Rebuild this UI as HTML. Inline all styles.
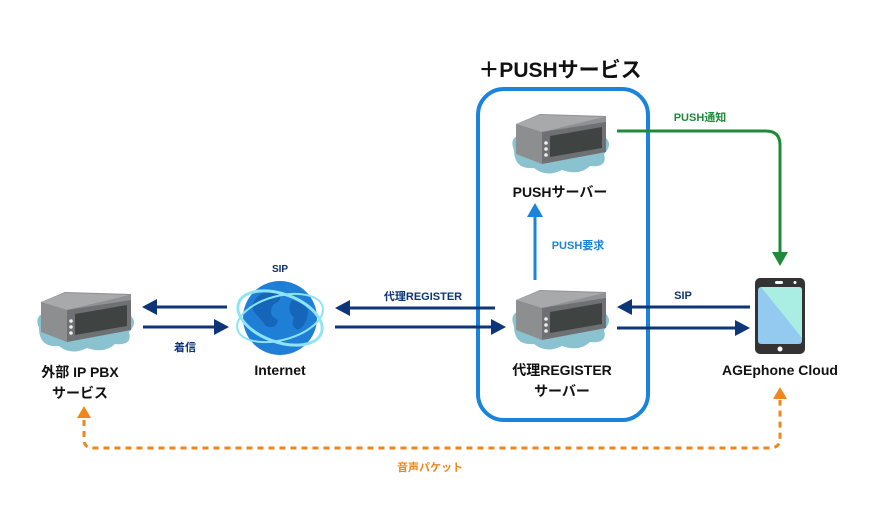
<!DOCTYPE html>
<html><head><meta charset="utf-8"><style>
body{margin:0;background:#fff}
text{font-family:"Liberation Sans","Noto Sans CJK JP",sans-serif;font-weight:bold}
</style></head><body>
<svg width="876" height="522" viewBox="0 0 876 522" xmlns="http://www.w3.org/2000/svg">
<defs>
<g id="srv">
<path d="M4,40 q-6,-14 10,-16 q6,-12 24,-6 q16,-10 30,0 q18,-6 26,8 q10,8 0,18 q4,14 -14,12 q-10,10 -28,4 q-16,8 -28,-2 q-20,2 -20,-18z" fill="#8ac3cf"/>
<path d="M6,14 L30,4 L96,6 L96,14 L32,30 L6,22z" fill="#8f9194"/>
<path d="M6,14 L30,5 L94,7 L32,22z" fill="#a7a9ab"/>
<path d="M32,22 L96,12 L96,42 L32,54z" fill="#6e7073"/>
<path d="M6,14 L32,22 L32,54 L6,44z" fill="#8c8e90"/>
<path d="M40,26 L92,17 L92,38 L40,47z" fill="#3f4442"/>
<circle cx="36" cy="33" r="1.8" fill="#eee"/><circle cx="36" cy="39" r="1.8" fill="#eee"/><circle cx="36" cy="45" r="1.8" fill="#eee"/>
</g>
<marker id="an" markerWidth="8" markerHeight="8" refX="7" refY="4" orient="auto" markerUnits="userSpaceOnUse"></marker>
</defs>
<text x="560" y="77" font-size="21" text-anchor="middle" fill="#111">＋PUSHサービス</text>
<rect x="478" y="89" width="170" height="331" rx="26" fill="none" stroke="#1a83dc" stroke-width="4"/>
<use href="#srv" x="510" y="110"/>
<use href="#srv" x="510" y="286"/>
<use href="#srv" x="35" y="288"/>
<text x="560" y="197" font-size="14" text-anchor="middle" fill="#111">PUSHサーバー</text>
<text x="562" y="375" font-size="14" text-anchor="middle" fill="#111">代理REGISTER</text>
<text x="562" y="396" font-size="14" text-anchor="middle" fill="#111">サーバー</text>
<text x="80" y="377" font-size="14" text-anchor="middle" fill="#111">外部 IP PBX</text>
<text x="80" y="398" font-size="14" text-anchor="middle" fill="#111">サービス</text>
<text x="280" y="375" font-size="14" text-anchor="middle" fill="#111">Internet</text>
<text x="780" y="375" font-size="14" text-anchor="middle" fill="#111">AGEphone Cloud</text>
<!-- globe -->
<circle cx="280" cy="318" r="37" fill="#1f7fd6"/>
<path d="M258,296 q10,-8 20,-4 q6,8 -4,12 q-8,10 4,16 q-2,10 -12,6 q-8,-10 -12,-14 q-4,-8 4,-16z M292,300 q10,2 16,10 q0,14 -10,20 q-8,-4 -4,-12 q-8,-8 -2,-18z" fill="#1565b8"/>
<ellipse cx="280" cy="318" rx="44" ry="24" fill="none" stroke="#8ee4f2" stroke-width="3" transform="rotate(20 280 318)"/>
<ellipse cx="280" cy="318" rx="44" ry="22" fill="none" stroke="#8ee4f2" stroke-width="2" transform="rotate(-15 280 318)"/>
<text x="280" y="272" font-size="10" text-anchor="middle" fill="#0d2f6b">SIP</text>
<!-- phone -->
<rect x="755" y="278" width="50" height="76" rx="5" fill="#333"/>
<rect x="758" y="287" width="44" height="57" rx="3" fill="#94c9f0"/>
<path d="M761,287 h38 q3,0 3,3 v48z" fill="#aaeee3"/>
<rect x="775" y="281" width="8" height="3" rx="1.5" fill="#fff"/>
<circle cx="795" cy="282.5" r="1.5" fill="#fff"/>
<circle cx="780" cy="349" r="2.5" fill="#fff"/>
<!-- navy arrows -->
<g stroke="#0d3577" stroke-width="3" fill="#0d3577">
<line x1="227" y1="307" x2="155" y2="307"/><path d="M142,307 l15,-8 v16z" stroke="none"/>
<line x1="143" y1="327" x2="216" y2="327"/><path d="M229,327 l-15,-8 v16z" stroke="none"/>
<line x1="495" y1="308" x2="348" y2="308"/><path d="M335,308 l15,-8 v16z" stroke="none"/>
<line x1="335" y1="327" x2="493" y2="327"/><path d="M506,327 l-15,-8 v16z" stroke="none"/>
<line x1="750" y1="307" x2="630" y2="307"/><path d="M617,307 l15,-8 v16z" stroke="none"/>
<line x1="617" y1="328" x2="737" y2="328"/><path d="M750,328 l-15,-8 v16z" stroke="none"/>
</g>
<text x="185" y="351" font-size="11" text-anchor="middle" fill="#0d3577">着信</text>
<text x="423" y="300" font-size="11" text-anchor="middle" fill="#0d3577">代理REGISTER</text>
<text x="683" y="299" font-size="11" text-anchor="middle" fill="#0d3577">SIP</text>
<!-- push request -->
<line x1="535" y1="280" x2="535" y2="216" stroke="#1a83dc" stroke-width="3"/>
<path d="M535,203 l-8,14 h16z" fill="#1a83dc"/>
<text x="578" y="249" font-size="11" text-anchor="middle" fill="#1a83dc">PUSH要求</text>
<!-- green -->
<path d="M617,131 H766 q14,0 14,14 V252" fill="none" stroke="#1f8a3a" stroke-width="3"/>
<path d="M780,266 l-8,-14 h16z" fill="#1f8a3a"/>
<text x="700" y="121" font-size="11" text-anchor="middle" fill="#1f8a3a">PUSH通知</text>
<!-- orange -->
<path d="M84,420 V440 q0,8 10,8 H770 q10,0 10,-10 V400" fill="none" stroke="#f0861c" stroke-width="3" stroke-dasharray="6,5"/>
<path d="M84,406 l-7,12 h14z M780,387 l-7,12 h14z" fill="#f0861c"/>
<text x="430" y="471" font-size="11" text-anchor="middle" fill="#f0861c">音声パケット</text>
</svg>
</body></html>
